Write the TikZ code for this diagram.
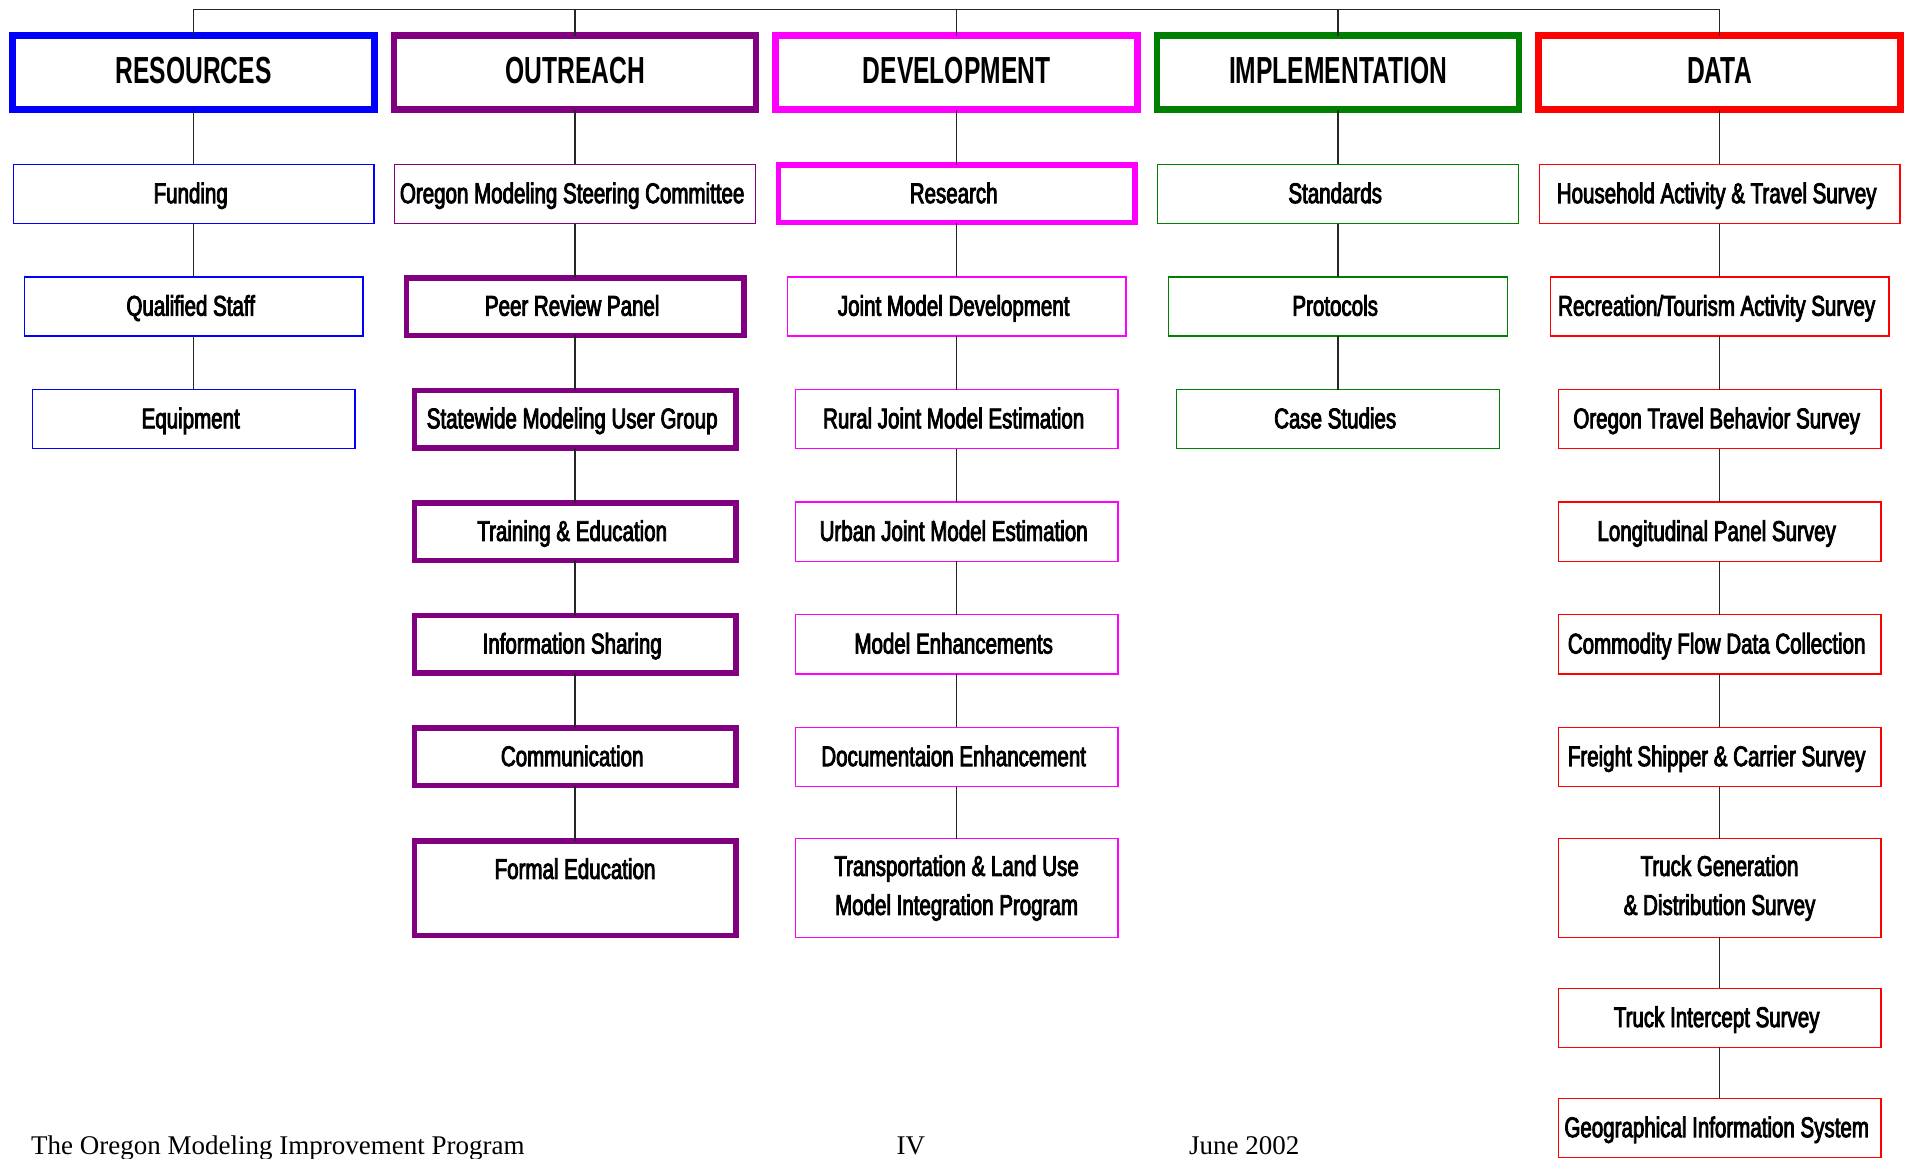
\documentclass[tikz,border=0pt]{standalone}
\usepackage{fontspec}
\setmainfont{Liberation Serif}
\newfontfamily\headfont[FakeStretch=0.653]{Liberation Sans}
\newfontfamily\itemfont[FakeStretch=0.72,FakeBold=3]{Liberation Sans}
\usetikzlibrary{matrix}

\definecolor{resblue}{RGB}{0,0,255}
\definecolor{outpurple}{RGB}{128,0,128}
\definecolor{devmagenta}{RGB}{255,0,255}
\definecolor{impgreen}{RGB}{0,128,0}
\definecolor{datared}{RGB}{255,0,0}

\tikzset{
  hdr/.style={draw=#1, line width=6.5pt, minimum width=362pt, minimum height=74pt,
              inner sep=0pt, anchor=center, text height=28pt, text depth=6.4pt,
              font=\headfont\bfseries\fontsize{37.7}{40}\selectfont},
  sub/.style 2 args={draw=#1, line width=1.3pt, minimum width=#2-1.3pt, minimum height=59.2pt,
              inner sep=0pt, anchor=center, align=flush center, text height=24pt, text depth=5.6pt,
              font=\itemfont\fontsize{28.5}{39}\selectfont},
  heavy/.style 2 args={sub={#1}{#2}, line width=5.5pt, minimum width=#2-5.5pt, minimum height=57.5pt},
  two/.style={text height=, text depth=, text width=310pt},
  link/.style={draw=black!85, line width=1.2pt},
  foot/.style={inner sep=0pt, anchor=base west, font=\fontsize{27}{30}\selectfont}
}

\begin{document}
\begin{tikzpicture}[x=1pt,y=-1pt]
\useasboundingbox (0,0) rectangle (1906,1159);
\matrix (m) [matrix of nodes, anchor=north west, inner sep=0pt, outer sep=0pt,
             column sep=13pt, row sep=49.6pt,
             nodes={anchor=center, text=black}]
  at (9.3,32.3)
{
  |[hdr=resblue]| RESOURCES & |[hdr=outpurple]| OUTREACH & |[hdr=devmagenta]| DEVELOPMENT
    & |[hdr=impgreen]| IMPLEMENTATION & |[hdr=datared]| DATA \\
  |[sub={resblue}{362pt}]| Funding
    & |[sub={outpurple}{362pt}]| Oregon Modeling Steering Committee
    & |[heavy={devmagenta}{362pt}]| Research
    & |[sub={impgreen}{362pt}]| Standards
    & |[sub={datared}{362pt}]| Household Activity \& Travel Survey \\
  |[sub={resblue}{340pt}]| Qualified Staff
    & |[heavy={outpurple}{343pt}]| Peer Review Panel
    & |[sub={devmagenta}{340pt}]| Joint Model Development
    & |[sub={impgreen}{340pt}]| Protocols
    & |[sub={datared}{340pt}]| Recreation/Tourism Activity Survey \\
  |[sub={resblue}{324pt}]| Equipment
    & |[heavy={outpurple}{327pt}]| Statewide Modeling User Group
    & |[sub={devmagenta}{324pt}]| Rural Joint Model Estimation
    & |[sub={impgreen}{324pt}]| Case Studies
    & |[sub={datared}{324pt}]| Oregon Travel Behavior Survey \\
  & |[heavy={outpurple}{327pt}]| Training \& Education
    & |[sub={devmagenta}{324pt}]| Urban Joint Model Estimation
    & & |[sub={datared}{324pt}]| Longitudinal Panel Survey \\
  & |[heavy={outpurple}{327pt}]| Information Sharing
    & |[sub={devmagenta}{324pt}]| Model Enhancements
    & & |[sub={datared}{324pt}]| Commodity Flow Data Collection \\
  & |[heavy={outpurple}{327pt}]| Communication
    & |[sub={devmagenta}{324pt}]| Documentaion Enhancement
    & & |[sub={datared}{324pt}]| Freight Shipper \& Carrier Survey \\
  & |[heavy={outpurple}{327pt}, two, minimum height=94.5pt]| {Formal Education\\ \mbox{}}
    & |[sub={devmagenta}{324pt}, two, minimum height=98.7pt]| {Transportation \& Land Use\\Model Integration Program}
    & & |[sub={datared}{324pt}, two, minimum height=98.7pt]| {Truck Generation\\\& Distribution Survey} \\
  & & & & |[sub={datared}{324pt}]| Truck Intercept Survey \\
  & & & & |[sub={datared}{324pt}]| Geographical Information System \\
};

% bar over the five heads
\coordinate (bar) at (0,9.5);
\draw[link] (m-1-1.north) -- (m-1-1.north |- bar) -- (m-1-5.north |- bar) -- (m-1-5.north);
\foreach \c in {2,3,4}
  \draw[link] (m-1-\c.north) -- (m-1-\c.north |- bar);

% columns
\foreach \c/\n in {1/4,2/8,3/8,4/4,5/10}{
  \pgfmathtruncatemacro\last{\n-1}
  \foreach \r in {1,...,\last}{
    \pgfmathtruncatemacro\s{\r+1}
    \draw[link] (m-\r-\c) -- (m-\s-\c);
  }
}

\node[foot] (prog) at (31,1154.3) {The Oregon Modeling Improvement Program};
\node[foot] (page) at (896.5,1154.3) {IV};
\node[foot] (date) at (1188.8,1154.3) {June 2002};
\end{tikzpicture}
\end{document}
